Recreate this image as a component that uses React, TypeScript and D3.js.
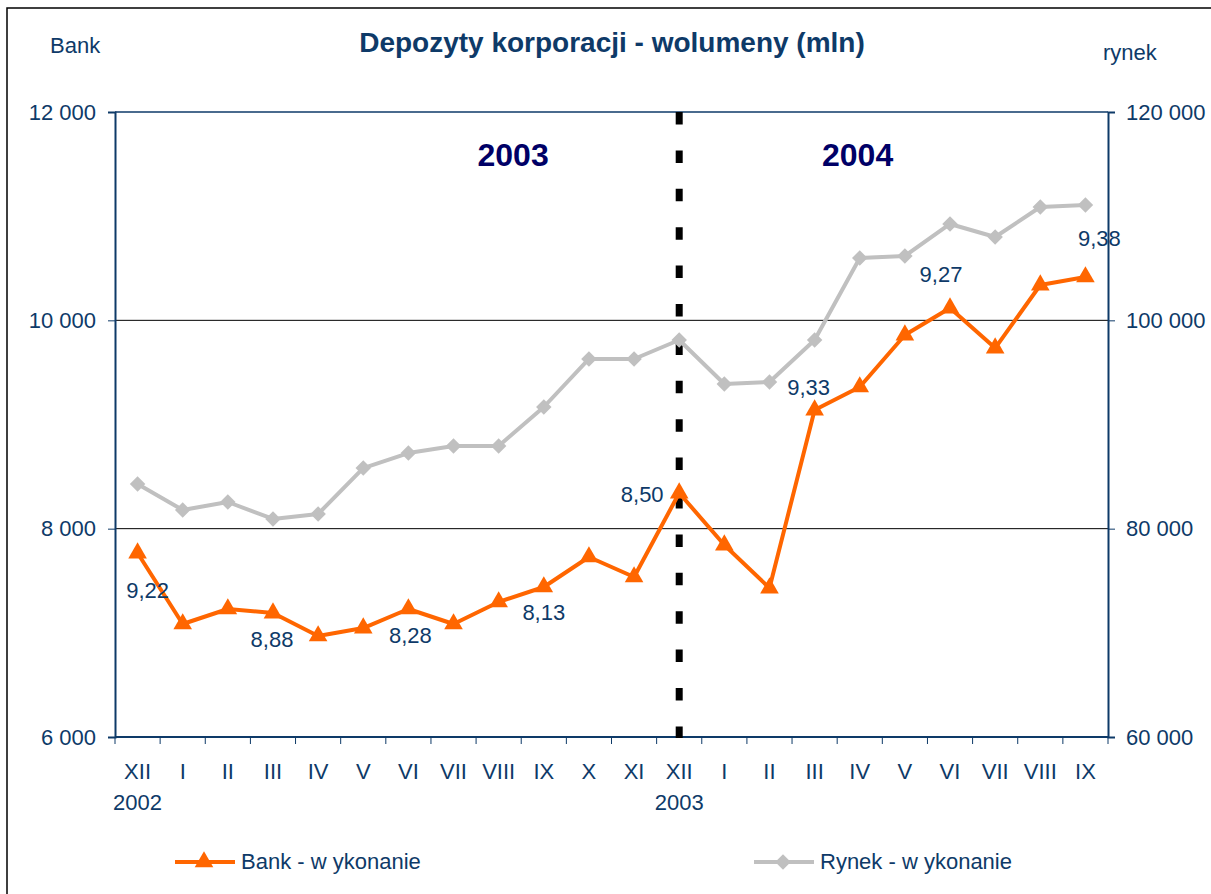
import * as d3 from "d3";
import { useEffect, useRef } from "react";

const months = ["XII", "I", "II", "III", "IV", "V", "VI", "VII", "VIII", "IX", "X", "XI", "XII", "I", "II", "III", "IV", "V", "VI", "VII", "VIII", "IX"];
const yearUnder = ["2002", "", "", "", "", "", "", "", "", "", "", "", "2003", "", "", "", "", "", "", "", "", ""];
const bank = [7766, 7085, 7229, 7190, 6970, 7046, 7229, 7085, 7296, 7440, 7728, 7536, 8342, 7843, 7430, 9139, 9360, 9859, 10118, 9734, 10339, 10416];
const rynek = [84290, 81790, 82560, 80930, 81410, 85820, 87260, 87940, 87940, 91680, 96290, 96290, 98110, 93890, 94080, 98110, 105980, 106180, 109250, 108000, 110880, 111070];
const shareIdx = [0, 3, 6, 9, 12, 15, 18, 21];
const shareText = ["9,22", "8,88", "8,28", "8,13", "8,50", "9,33", "9,27", "9,38"];
const leftTicks = [6000, 8000, 10000, 12000];
const rightTicks = [60000, 80000, 100000, 120000];
const periods = ["2003", "2004"];

// label offsets from the point (px)
const shareOffset: [number, number][] = [
  [10, 45], [-1, 34], [2, 34], [0, 33], [-37, 9], [-6, -15], [-9, -26], [14, -31],
];

const W = 1211;
const H = 894;
const M = { left: 115, right: 1108, top: 112, bottom: 737 };
const NAVY = "#0e3a68";
const FONT = "'Liberation Sans', Arial, sans-serif";
const ORANGE = "#ff6600";
const GREY = "#c0c0c0";

const fmt = (v: number) => d3.format(",")(v).replace(/,/g, " ");

export default function App() {
  const ref = useRef<SVGSVGElement>(null);

  useEffect(() => {
    const svg = d3.select(ref.current);
    svg.selectAll("*").remove();
    svg.style("font-family", FONT);

    svg.append("rect").attr("width", W).attr("height", H).attr("fill", "#fff");
    // outer frame
    svg
      .append("rect")
      .attr("x", 7)
      .attr("y", 8)
      .attr("width", W + 20)
      .attr("height", H + 20)
      .attr("fill", "none")
      .attr("stroke", "#000")
      .attr("stroke-width", 1.5);

    const idx = months.map((_, i) => i);
    const x = d3.scaleBand<number>().domain(idx).range([M.left, M.right]).padding(0);
    const cx = (i: number) => (x(i) as number) + x.bandwidth() / 2;
    const yL = d3.scaleLinear().domain([6000, 12000]).range([M.bottom, M.top]);
    const yR = d3.scaleLinear().domain([60000, 120000]).range([M.bottom, M.top]);

    // gridlines
    svg
      .append("g")
      .selectAll("line")
      .data([8000, 10000])
      .join("line")
      .attr("x1", M.left)
      .attr("x2", M.right)
      .attr("y1", (d) => yL(d))
      .attr("y2", (d) => yL(d))
      .attr("stroke", "#000")
      .attr("stroke-width", 1);

    // plot box top
    svg
      .append("line")
      .attr("x1", M.left)
      .attr("x2", M.right)
      .attr("y1", M.top)
      .attr("y2", M.top)
      .attr("stroke", NAVY)
      .attr("stroke-width", 1.5);

    // left axis
    const gl = svg
      .append("g")
      .attr("transform", `translate(${M.left},0)`)
      .call(d3.axisLeft(yL).tickValues(leftTicks).tickFormat((d) => fmt(+d)).tickSize(7).tickPadding(12));
    // right axis
    const gr = svg
      .append("g")
      .attr("transform", `translate(${M.right},0)`)
      .call(d3.axisRight(yR).tickValues(rightTicks).tickFormat((d) => fmt(+d)).tickSize(7).tickPadding(11));
    [gl, gr].forEach((g) => {
      g.select(".domain").attr("stroke", NAVY).attr("stroke-width", 2);
      g.selectAll(".tick line").attr("stroke", NAVY).attr("stroke-width", 1);
      g.selectAll(".tick text").attr("fill", NAVY).style("font-size", "22px").style("font-family", FONT);
    });

    // bottom axis with ticks at category boundaries
    svg
      .append("line")
      .attr("x1", M.left)
      .attr("x2", M.right)
      .attr("y1", M.bottom)
      .attr("y2", M.bottom)
      .attr("stroke", NAVY)
      .attr("stroke-width", 2);
    svg
      .append("g")
      .selectAll("line")
      .data([...idx, idx.length])
      .join("line")
      .attr("x1", (i) => M.left + i * x.bandwidth())
      .attr("x2", (i) => M.left + i * x.bandwidth())
      .attr("y1", M.bottom)
      .attr("y2", M.bottom + 7)
      .attr("stroke", NAVY)
      .attr("stroke-width", 1);
    svg
      .append("g")
      .selectAll("text")
      .data(idx)
      .join("text")
      .attr("x", (i) => cx(i))
      .attr("y", 779)
      .attr("text-anchor", "middle")
      .attr("fill", NAVY)
      .style("font-size", "22px")
      .text((i) => months[i]);
    svg
      .append("g")
      .selectAll("text")
      .data(idx.filter((i) => yearUnder[i]))
      .join("text")
      .attr("x", (i) => cx(i))
      .attr("y", 810)
      .attr("text-anchor", "middle")
      .attr("fill", NAVY)
      .style("font-size", "22px")
      .text((i) => yearUnder[i]);

    // dashed year separator
    svg
      .append("line")
      .attr("x1", cx(12))
      .attr("x2", cx(12))
      .attr("y1", M.top)
      .attr("y2", M.bottom + 1)
      .attr("stroke", "#000")
      .attr("stroke-width", 7)
      .attr("stroke-dasharray", "12.5 25.9");

    // period labels
    svg
      .append("g")
      .selectAll("text")
      .data(periods)
      .join("text")
      .attr("x", (_, k) => (k === 0 ? (M.left + cx(12)) / 2 + 116 : (cx(12) + M.right) / 2 - 36))
      .attr("y", 166)
      .attr("text-anchor", "middle")
      .attr("fill", "#000066")
      .style("font-size", "32px")
      .style("font-weight", "bold")
      .text((d) => d);

    const diamond = d3.symbol(d3.symbolSquare, 120)();
    const tri = d3.symbol(d3.symbolTriangle, 150)();

    // rynek series
    const lineR = d3
      .line<number>()
      .x((_, i) => cx(i))
      .y((d) => yR(d));
    svg
      .append("path")
      .attr("d", lineR(rynek))
      .attr("fill", "none")
      .attr("stroke", GREY)
      .attr("stroke-width", 4)
      .attr("stroke-linejoin", "round");
    svg
      .append("g")
      .selectAll("path")
      .data(rynek)
      .join("path")
      .attr("transform", (d, i) => `translate(${cx(i)},${yR(d)}) rotate(45)`)
      .attr("d", diamond)
      .attr("fill", GREY);

    // bank series
    const lineB = d3
      .line<number>()
      .x((_, i) => cx(i))
      .y((d) => yL(d));
    svg
      .append("path")
      .attr("d", lineB(bank))
      .attr("fill", "none")
      .attr("stroke", ORANGE)
      .attr("stroke-width", 4)
      .attr("stroke-linejoin", "round");
    svg
      .append("g")
      .selectAll("path")
      .data(bank)
      .join("path")
      .attr("transform", (d, i) => `translate(${cx(i)},${yL(d)})`)
      .attr("d", tri)
      .attr("fill", ORANGE);

    // market share labels
    svg
      .append("g")
      .selectAll("text")
      .data(shareIdx)
      .join("text")
      .attr("x", (i, k) => cx(i) + shareOffset[k][0])
      .attr("y", (i, k) => yL(bank[i]) + shareOffset[k][1])
      .attr("text-anchor", "middle")
      .attr("fill", NAVY)
      .style("font-size", "22px")
      .text((_, k) => shareText[k]);

    // titles
    svg
      .append("text")
      .attr("x", 612)
      .attr("y", 52)
      .attr("text-anchor", "middle")
      .attr("fill", NAVY)
      .style("font-size", "28px")
      .style("font-weight", "bold")
      .text("Depozyty korporacji - wolumeny (mln)");
    svg
      .append("text")
      .attr("x", 50)
      .attr("y", 53)
      .attr("fill", NAVY)
      .style("font-size", "22px")
      .text("Bank");
    svg
      .append("text")
      .attr("x", 1103)
      .attr("y", 60)
      .attr("fill", NAVY)
      .style("font-size", "22px")
      .text("rynek");

    // legend
    const lg = svg.append("g");
    lg.append("line").attr("x1", 175).attr("x2", 235).attr("y1", 862).attr("y2", 862).attr("stroke", ORANGE).attr("stroke-width", 4);
    lg.append("path").attr("transform", "translate(204,862)").attr("d", tri).attr("fill", ORANGE);
    lg.append("text").attr("x", 241).attr("y", 869).attr("fill", NAVY).style("font-size", "22px").text("Bank - w ykonanie");
    lg.append("line").attr("x1", 754).attr("x2", 814).attr("y1", 862).attr("y2", 862).attr("stroke", GREY).attr("stroke-width", 4);
    lg.append("path").attr("transform", "translate(783,862) rotate(45)").attr("d", diamond).attr("fill", GREY);
    lg.append("text").attr("x", 820).attr("y", 869).attr("fill", NAVY).style("font-size", "22px").text("Rynek - w ykonanie");
  }, []);

  return (
    <div style={{ position: "absolute", left: 0, top: 0 }}>
      <svg ref={ref} width={W} height={H} style={{ display: "block" }} />
    </div>
  );
}
